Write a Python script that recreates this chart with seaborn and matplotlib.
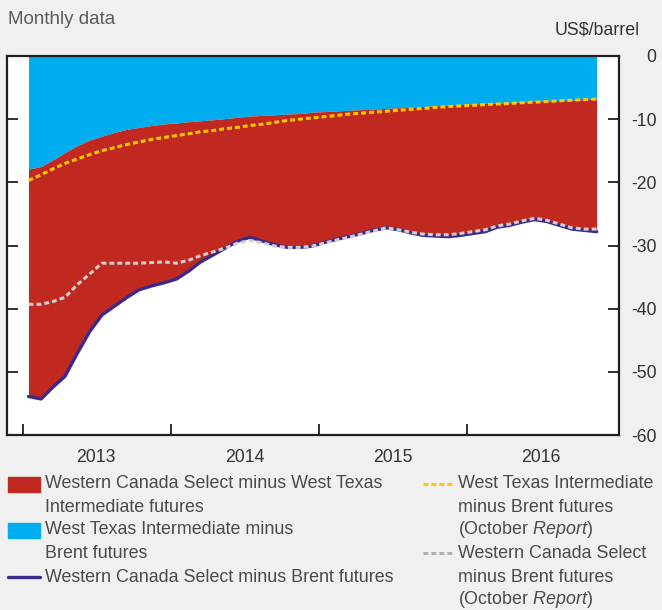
import seaborn as sns
import matplotlib.pyplot as plt
from matplotlib.patches import Rectangle
from matplotlib.lines import Line2D
import pandas as pd

# monthly observations, Jan 2013 - Nov 2016 (plotted at mid-month)
months = pd.date_range("2013-01-01", periods=47, freq="MS") + pd.Timedelta(days=14)

# West Texas Intermediate minus Brent futures (US$/barrel)
wti_brent = [-17.9, -17.5, -16.5, -15.3, -14.2, -13.3, -12.7, -12.1, -11.6, -11.3,
             -11.0, -10.75, -10.6, -10.4, -10.25, -10.1, -9.9, -9.7, -9.5, -9.4,
             -9.3, -9.2, -9.1, -8.9, -8.8, -8.7, -8.6, -8.5, -8.4, -8.3,
             -8.2, -8.1, -8.0, -7.9, -7.75, -7.7, -7.6, -7.5, -7.45, -7.4,
             -7.3, -7.2, -7.15, -7.05, -7.0, -6.9, -6.85]

# Western Canada Select minus Brent futures
wcs_brent = [-53.9, -54.3, -52.5, -50.7, -47.1, -43.6, -41.0, -39.6, -38.2, -37.0,
             -36.4, -35.9, -35.3, -34.0, -32.6, -31.5, -30.4, -29.3, -28.7, -29.3,
             -29.9, -30.3, -30.3, -30.1, -29.5, -29.0, -28.6, -28.1, -27.6, -27.2,
             -27.5, -28.0, -28.4, -28.5, -28.6, -28.4, -28.1, -27.8, -27.1, -26.8,
             -26.3, -25.9, -26.2, -26.8, -27.4, -27.6, -27.8]

# October Report curves
wti_brent_oct = [-19.7, -18.8, -17.9, -17.0, -16.3, -15.6, -15.0, -14.5, -14.0, -13.6,
                 -13.2, -12.9, -12.6, -12.3, -12.0, -11.8, -11.5, -11.3, -11.0, -10.8,
                 -10.5, -10.2, -10.0, -9.8, -9.6, -9.4, -9.2, -9.05, -8.9, -8.75,
                 -8.6, -8.45, -8.3, -8.15, -8.0, -7.9, -7.8, -7.7, -7.6, -7.5,
                 -7.4, -7.3, -7.2, -7.1, -7.0, -6.9, -6.8]

wcs_brent_oct = [-39.3, -39.3, -38.9, -38.2, -36.2, -34.5, -32.8, -32.8, -32.8, -32.8,
                 -32.7, -32.6, -32.8, -32.3, -31.6, -31.0, -30.4, -29.6, -29.2, -29.6,
                 -30.1, -30.3, -30.3, -30.1, -29.6, -29.1, -28.7, -28.2, -27.7, -27.2,
                 -27.5, -27.9, -28.2, -28.3, -28.3, -28.1, -27.8, -27.5, -26.9, -26.6,
                 -26.1, -25.7, -26.0, -26.6, -27.2, -27.4, -27.4]

years = ["2013", "2014", "2015", "2016"]
yticks = [0, -10, -20, -30, -40, -50, -60]

RED = "#c1281f"
BLUE = "#00aeef"
PURPLE = "#3b2a8c"
YELLOW = "#ffc800"
GREY = "#cfcfcf"
INK = "#231f20"
TXT = "#4a4a4a"
FS = 12.9

sns.set_style("white")
plt.rcParams["font.family"] = ["Liberation Sans", "DejaVu Sans"]
plt.rcParams["mathtext.fontset"] = "custom"
plt.rcParams["mathtext.rm"] = "Liberation Sans"
plt.rcParams["mathtext.it"] = "Liberation Sans:italic"

W, H = 662, 610
fig = plt.figure(figsize=(W / 100, H / 100), dpi=100, facecolor="#f0f0f0")
ax = fig.add_axes([7 / W, 175 / H, 612 / W, 379 / H])
ax.set_facecolor("white")

df = pd.DataFrame({"date": months, "wti_brent": wti_brent, "wcs_brent": wcs_brent,
                   "wti_brent_oct": wti_brent_oct, "wcs_brent_oct": wcs_brent_oct})

ax.fill_between(df["date"], 0, df["wti_brent"], color=BLUE, lw=0, zorder=1)
ax.fill_between(df["date"], df["wti_brent"], df["wcs_brent"], color=RED, lw=0, zorder=1)

sns.lineplot(data=df, x="date", y="wcs_brent", color=PURPLE, lw=2.4, ax=ax, zorder=3)
sns.lineplot(data=df, x="date", y="wcs_brent_oct", color=GREY, lw=2.2, ax=ax, zorder=4)
ax.lines[-1].set_linestyle((0, (1.6, 1.0)))
sns.lineplot(data=df, x="date", y="wti_brent_oct", color=YELLOW, lw=2.2, ax=ax, zorder=4)
ax.lines[-1].set_linestyle((0, (1.6, 1.0)))

ax.set_xlim(pd.Timestamp("2012-11-23"), pd.Timestamp("2017-01-09"))
ax.set_ylim(-60, 0)
ax.set_xlabel("")
ax.set_ylabel("")

# x axis: ticks at year starts, labels centred on the year
ax.set_xticks([pd.Timestamp(f"{y}-01-01") for y in years])
ax.set_xticklabels([])
ax.set_xticks([pd.Timestamp(f"{y}-07-01") for y in years], minor=True)
ax.set_xticklabels(years, minor=True)
ax.tick_params(axis="x", which="major", direction="in", length=8, width=1.3,
               color=INK, bottom=True)
ax.tick_params(axis="x", which="minor", length=0, pad=10, labelsize=12.7,
               labelcolor="#333333")

ax.set_yticks(yticks)
ax.set_yticklabels([str(v) for v in yticks])
ax.tick_params(axis="y", direction="in", length=8, width=1.3, color=INK,
               left=True, right=True, labelleft=False, labelright=True,
               pad=27, labelsize=12.7, labelcolor="#333333")
for lbl in ax.get_yticklabels():
    lbl.set_horizontalalignment("right")

for s in ax.spines.values():
    s.set_visible(True)
    s.set_color(INK)
    s.set_linewidth(1.6)

fig.text(8 / W, 1 - 19 / H, "Monthly data", fontsize=13.5, color="#5a5a5a",
         ha="left", va="center")
fig.text(640 / W, 1 - 30 / H, "US$/barrel", fontsize=12.8, color="#333333",
         ha="right", va="center")

# legend drawn by hand, two columns
def fy(y):
    return 1 - y / H

def put(x, y, s):
    fig.text(x / W, fy(y), s, fontsize=FS, color=TXT, ha="left", va="center")

fig.add_artist(Rectangle((8 / W, fy(492)), 32 / W, 15 / H, color=RED,
                         transform=fig.transFigure))
put(45, 484, "Western Canada Select minus West Texas")
put(45, 507, "Intermediate futures")
fig.add_artist(Rectangle((8 / W, fy(538)), 32 / W, 15 / H, color=BLUE,
                         transform=fig.transFigure))
put(45, 530, "West Texas Intermediate minus")
put(45, 553, "Brent futures")
fig.add_artist(Line2D([8 / W, 40 / W], [fy(577), fy(577)], color=PURPLE, lw=2.4,
                      transform=fig.transFigure))
put(45, 577, "Western Canada Select minus Brent futures")

fig.add_artist(Line2D([423 / W, 453 / W], [fy(484), fy(484)], color=YELLOW, lw=2.2,
                      linestyle=(0, (1.6, 1.0)), transform=fig.transFigure))
put(458, 484, "West Texas Intermediate")
put(458, 507, "minus Brent futures")
put(458, 530, "(October $\\mathit{Report}$)")
fig.add_artist(Line2D([423 / W, 453 / W], [fy(553), fy(553)], color="#b0b0b0", lw=2.2,
                      linestyle=(0, (1.6, 1.0)), transform=fig.transFigure))
put(458, 553, "Western Canada Select")
put(458, 577, "minus Brent futures")
put(458, 600, "(October $\\mathit{Report}$)")

fig.savefig("out.png", dpi=100, facecolor=fig.get_facecolor())
